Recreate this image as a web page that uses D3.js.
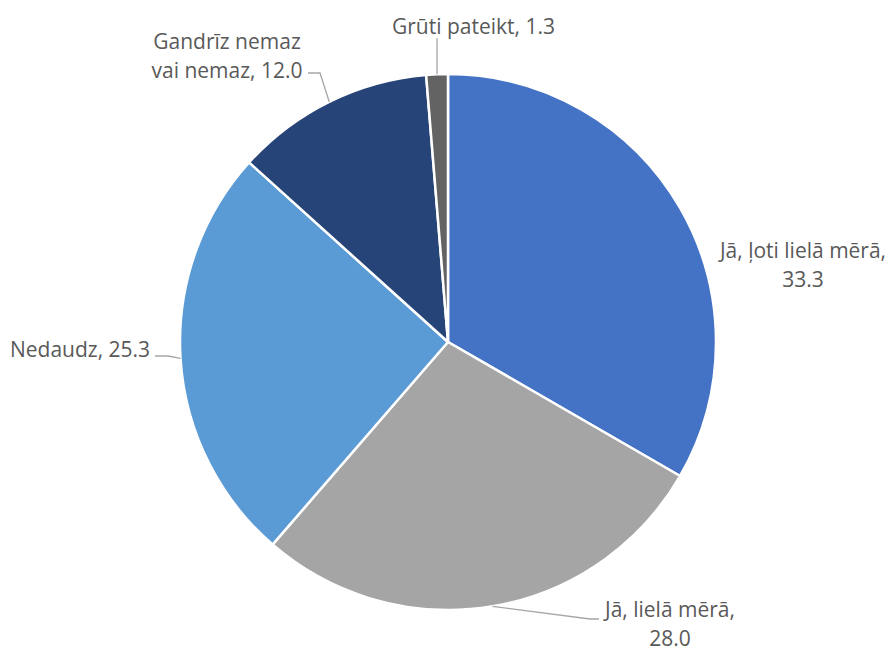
<!DOCTYPE html>
<html>
<head>
<meta charset="utf-8">
<script src="https://cdn.jsdelivr.net/npm/d3@7"></script>
<style>
  html, body { margin: 0; padding: 0; background: #ffffff; }
  svg { display: block; }
</style>
</head>
<body>
<svg id="chart" width="892" height="652"></svg>
<script>
// ---- data ----
const categories = ["Jā, ļoti lielā mērā", "Jā, lielā mērā", "Nedaudz", "Gandrīz nemaz vai nemaz", "Grūti pateikt"];
const values = [33.3, 28.0, 25.3, 12.0, 1.3];
const valueLabels = ["33.3", "28.0", "25.3", "12.0", "1.3"];
const colors = ["#4472C4", "#A5A5A5", "#5B9BD5", "#264478", "#636363"];
// label text lines (as displayed)
const labelLines = [
  ["Jā, ļoti lielā mērā,", "33.3"],
  ["Jā, lielā mērā,", "28.0"],
  ["Nedaudz, 25.3"],
  ["Gandrīz nemaz", "vai nemaz, 12.0"],
  ["Grūti pateikt, 1.3"]
];

// ---- layout ----
const W = 892, H = 652;
const cx = 448, cy = 342, R = 268;
const fontSize = 21, lineH = 29;
// label placement: anchor, x, first baseline, leader elbow/end points (null = no leader)
const labelLayout = [
  { anchor: "middle", x: 803, y: 258, leader: null },
  { anchor: "middle", x: 670, y: 617, leader: [[590, 619], [599, 619]] },
  { anchor: "start",  x: 10,  y: 357, leader: [[168, 356], [155, 356]] },
  { anchor: "middle", x: 227, y: 49,  leader: [[320, 73], [308, 73]] },
  { anchor: "start",  x: 392, y: 34,  leader: [[437, 38]] }
];

const svg = d3.select("#chart");
const g = svg.append("g").attr("transform", `translate(${cx},${cy})`);

const pie = d3.pie().sort(null).value(d => d)(values);
const arc = d3.arc().innerRadius(0).outerRadius(R);

g.selectAll("path.slice")
  .data(pie)
  .join("path")
  .attr("class", "slice")
  .attr("d", arc)
  .attr("fill", (d, i) => colors[i])
  .attr("stroke", "#ffffff")
  .attr("stroke-width", 2.5)
  .attr("stroke-linejoin", "round");

// leader lines from arc midpoint
pie.forEach((d, i) => {
  const L = labelLayout[i];
  if (!L.leader) return;
  const mid = (d.startAngle + d.endAngle) / 2;
  const p0 = [cx + R * Math.sin(mid), cy - R * Math.cos(mid)];
  const pts = [p0, ...L.leader];
  svg.append("path")
    .attr("d", d3.line()(pts))
    .attr("fill", "none")
    .attr("stroke", "#A6A6A6")
    .attr("stroke-width", 1.3);
});

// labels
pie.forEach((d, i) => {
  const L = labelLayout[i];
  const t = svg.append("text")
    .attr("x", L.x)
    .attr("y", L.y)
    .attr("text-anchor", L.anchor)
    .attr("font-family", "'Open Sans', 'Noto Sans', sans-serif")
    .attr("font-size", fontSize)
    .attr("fill", "#595959");
  labelLines[i].forEach((line, j) => {
    t.append("tspan")
      .attr("x", L.x)
      .attr("y", L.y + j * lineH)
      .text(line);
  });
});
</script>
</body>
</html>
